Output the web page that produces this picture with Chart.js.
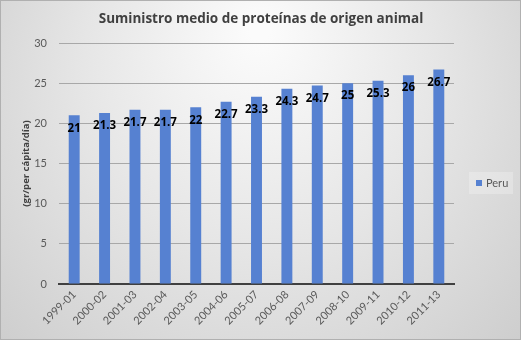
<!DOCTYPE html>
<html>
<head>
<meta charset="utf-8">
<script src="https://cdn.jsdelivr.net/npm/chart.js@4.4.1/dist/chart.umd.min.js"></script>
<style>
  html, body { margin: 0; padding: 0; background: #fff; }
  #wrap { width: 521px; height: 340px; position: relative; }
</style>
</head>
<body>
<div id="wrap"><canvas id="chart" width="521" height="340"></canvas></div>
<script>
// ── DATA ─────────────────────────────────────────
const periods = ['1999-01', '2000-02', '2001-03', '2002-04', '2003-05', '2004-06', '2005-07',
                 '2006-08', '2007-09', '2008-10', '2009-11', '2010-12', '2011-13'];
const peruValues = [21, 21.3, 21.7, 21.7, 22, 22.7, 23.3, 24.3, 24.7, 25, 25.3, 26, 26.7];
const seriesName = 'Peru';
const chartTitle = 'Suministro medio de proteínas de origen animal';
const yTitle = '(gr/per cápita/día)';

const FONT = "Lato, 'Open Sans', sans-serif";
const BOLD_FONT = "'Open Sans', Lato, sans-serif";
const BAR_COLOR = '#5681d1';

// ── PLUGINS ──────────────────────────────────────
// gradient backdrop + thin frame, like the Excel chart area
const backdrop = {
  id: 'backdrop',
  beforeDraw(chart) {
    const { ctx, width, height } = chart;
    ctx.save();
    const g = ctx.createRadialGradient(260, 30, 10, 260, 120, 380);
    g.addColorStop(0, '#fbfbfb');
    g.addColorStop(0.45, '#e6e6e6');
    g.addColorStop(1, '#c9c9c9');
    ctx.fillStyle = g;
    ctx.fillRect(0, 0, width, height);
    ctx.strokeStyle = '#b0b0b0';
    ctx.lineWidth = 1;
    ctx.strokeRect(0.5, 0.5, width - 1, height - 1);
    ctx.restore();
  }
};

// title, value labels and the small legend box on the right
const decorations = {
  id: 'decorations',
  afterDatasetsDraw(chart) {
    const { ctx } = chart;
    const meta = chart.getDatasetMeta(0);
    ctx.save();

    ctx.fillStyle = '#404040';
    ctx.font = `bold 13.5px ${BOLD_FONT}`;
    ctx.textAlign = 'center';
    ctx.textBaseline = 'middle';
    ctx.fillText(chartTitle, 261, 19);

    ctx.fillStyle = '#000';
    ctx.font = `bold 11.5px ${BOLD_FONT}`;
    meta.data.forEach((bar, i) => {
      ctx.fillText(String(peruValues[i]), bar.x, bar.y + 13);
    });

    // legend
    ctx.fillStyle = 'rgba(255,255,255,0.25)';
    ctx.fillRect(469, 172, 44, 22);
    ctx.fillStyle = BAR_COLOR;
    ctx.fillRect(476, 180, 6, 6);
    ctx.fillStyle = '#595959';
    ctx.font = `11px ${FONT}`;
    ctx.textAlign = 'left';
    ctx.fillText(chart.data.datasets[0].label, 486, 183);
    ctx.restore();
  }
};

// ── CHART ────────────────────────────────────────
new Chart(document.getElementById('chart'), {
  type: 'bar',
  data: {
    labels: periods,
    datasets: [{
      label: seriesName,
      data: peruValues,
      backgroundColor: BAR_COLOR,
      borderWidth: 0,
      barPercentage: 0.72,
      categoryPercentage: 0.5,
    }]
  },
  plugins: [backdrop, decorations],
  options: {
    responsive: false,
    animation: false,
    layout: { padding: { top: 43, right: 67, left: 0, bottom: 0 } },
    scales: {
      x: {
        grid: { display: false, drawTicks: false },
        border: { display: true, color: '#404040', width: 2 },
        ticks: {
          color: '#595959',
          font: { family: FONT, size: 11 },
          minRotation: 45,
          maxRotation: 45,
          autoSkip: false,
          padding: 4,
        },
        afterFit: s => { s.height = 56; },
      },
      y: {
        min: 0,
        max: 30,
        grid: { color: '#a8a8a8', drawTicks: false },
        border: { display: false },
        ticks: {
          stepSize: 5,
          color: '#595959',
          font: { family: FONT, size: 11 },
          padding: 12,
        },
        title: {
          display: true,
          text: yTitle,
          color: '#404040',
          font: { family: BOLD_FONT, size: 9.5, weight: 'bold' },
          padding: { top: 21, bottom: 0 },
        },
        afterFit: s => { s.width = 59; },
      }
    },
    plugins: {
      legend: { display: false },
      title: { display: false },
      tooltip: { enabled: false },
    }
  }
});
</script>
</body>
</html>
